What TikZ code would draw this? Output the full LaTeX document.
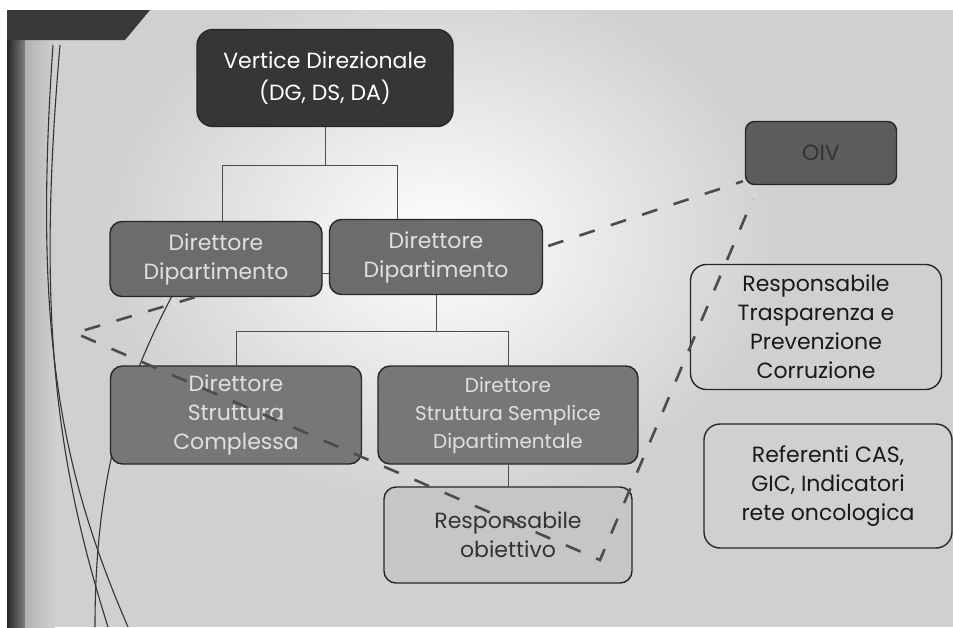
\documentclass[tikz,border=0pt]{standalone}
\usepackage{fontspec}
\setmainfont{Poppins}
\usepackage{tikz}
\definecolor{OrgNero}{HTML}{363636}
\definecolor{OrgGrigio}{HTML}{6C6C6C}
\definecolor{OrgMedio}{HTML}{777777}
\definecolor{OrgChiaro}{HTML}{C6C6C6}
\definecolor{OrgOIV}{HTML}{5C5C5C}
\definecolor{OrgFondo}{HTML}{D0D0D0}
\colorlet{OrgTesto}{white!88!black}

\begin{document}
\begin{tikzpicture}[x=1pt,y=-1pt,
 nodo/.style={draw=black!85,line width=1.4pt,rounded corners=12pt,align=center,inner sep=0pt,font=\fontsize{22}{29}\selectfont},
 rama/.style={draw=black!70,line width=0.8pt},
 tratto/.style={draw=black!70,line width=2.6pt,dash pattern=on 16pt off 17pt},
 curva/.style={draw=black!80,line width=1.1pt}]
\useasboundingbox (0,0) rectangle (953,627);
% fondo della diapositiva
\fill[white] (0,0) rectangle (953,627);
\begin{scope}
\clip (7,10) rectangle (953,627);
\fill[OrgFondo] (7,10) rectangle (953,627);
\shade[inner color=white,outer color=OrgFondo] (440,240) ellipse [x radius=340,y radius=270];
\end{scope}
\shade[left color=black!85,right color=black!50] (7,10) rectangle (25,627);
\shade[left color=gray!60,right color=OrgFondo] (25,40) rectangle (55,627);
\fill[black!78] (7,10) -- (150,10) -- (125,40) -- (7,40) -- cycle;
\draw[curva] (53,45) .. controls (33,330) and (60,470) .. (128,627);
\draw[curva] (60,45) .. controls (38,300) and (52,450) .. (108,627);
\draw[curva] (172,296) .. controls (128,380) and (95,470) .. (95,627);
% organigramma
\node[nodo,fill=OrgNero,text=white,minimum width=256pt,minimum height=97pt,rounded corners=16pt,font=\fontsize{22}{32}\selectfont] (vd) at (325,78) {Vertice Direzionale\\(DG, DS, DA)};
\node[nodo,fill=OrgGrigio,text=OrgTesto,minimum width=212pt,minimum height=75pt] (ddl) at (216,259) {Direttore\\Dipartimento};
\node[nodo,fill=OrgGrigio,text=OrgTesto,minimum width=213pt,minimum height=75pt] (ddr) at (436,257) {Direttore\\Dipartimento};
\node[nodo,fill=OrgMedio,text=OrgTesto,minimum width=251pt,minimum height=98pt] (sc) at (236,415) {Direttore\\Struttura\\Complessa};
\node[nodo,fill=OrgMedio,text=OrgTesto,minimum width=260pt,minimum height=98pt,font=\fontsize{20}{28}\selectfont] (ssd) at (508,415) {Direttore\\Struttura Semplice\\Dipartimentale};
\node[nodo,fill=OrgChiaro,text=black!80,minimum width=248pt,minimum height=96pt] (ro) at (508,535) {Responsabile\\obiettivo};
\node[nodo,fill=OrgOIV,text=black!80,minimum width=151pt,minimum height=63pt,rounded corners=9pt] (oiv) at (821,153) {OIV};
\node[nodo,text=black!90,minimum width=251pt,minimum height=125pt,rounded corners=16pt] (rt) at (816,327) {Responsabile\\Trasparenza e\\Prevenzione\\Corruzione};
\node[nodo,text=black!90,minimum width=248pt,minimum height=124pt,rounded corners=16pt] (ref) at (828,486) {Referenti CAS,\\GIC, Indicatori\\rete oncologica};
\draw[rama] (vd.south) -- ++(0,38) coordinate (j1);
\draw[rama] ([xshift=6pt]ddl.north) |- (j1) -| ([xshift=-39pt]ddr.north);
\draw[rama] ([yshift=-14pt]ddl.east) -- ([yshift=-16pt]ddr.west);
\draw[rama] (ddr.south) -- ++(0,36) coordinate (j2);
\draw[rama] (sc.north) |- (j2) -| (ssd.north);
\draw[rama] (ssd.south) -- (ro.north);
% linee tratteggiate verso OIV
\coordinate (v1) at (75,333);
\coordinate (v2) at (600,560);
\draw[tratto] ([shift={(5pt,11pt)}]ddr.east) -- ([shift={(-2pt,4pt)}]oiv.south west);
\draw[tratto] ([xshift=-21pt]ddl.south) -- (v1) -- (v2) -- ([shift={(8pt,-14pt)}]oiv.south west);
\end{tikzpicture}
\end{document}
